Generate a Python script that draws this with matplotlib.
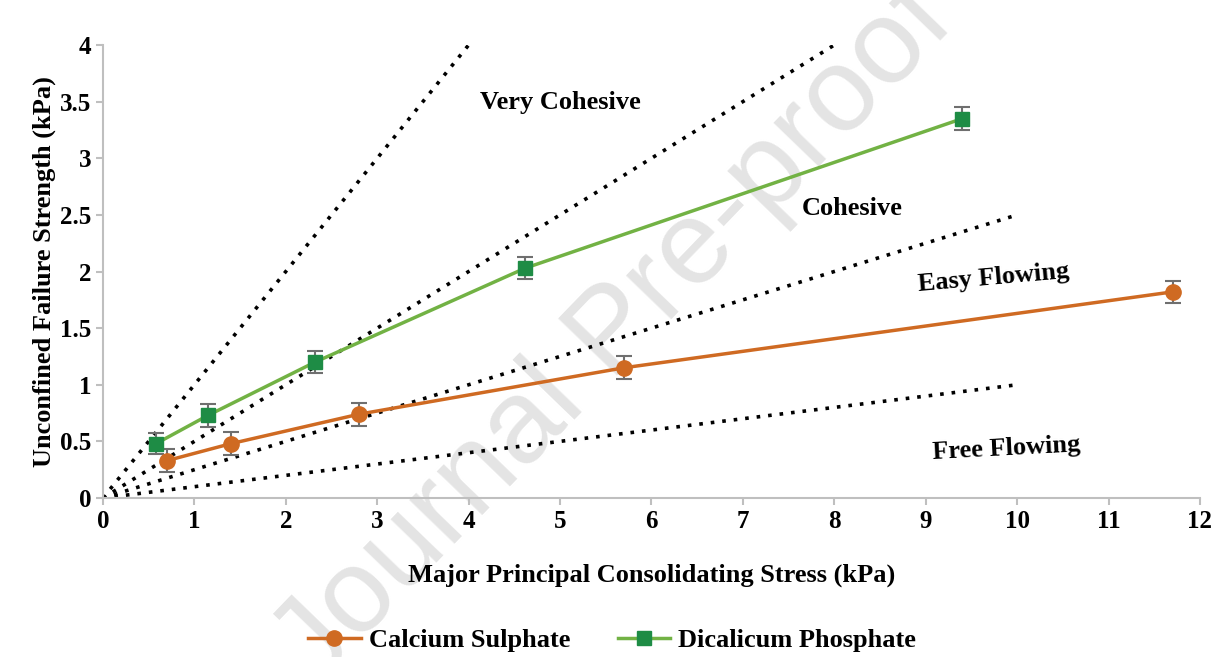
import matplotlib.pyplot as plt

# data
cs_x = [0.7, 1.4, 2.8, 5.7, 11.7]
cs_y = [0.33, 0.48, 0.74, 1.15, 1.82]
cs_err = [0.1, 0.1, 0.1, 0.1, 0.1]

dp_x = [0.58, 1.15, 2.32, 4.62, 9.4]
dp_y = [0.48, 0.73, 1.2, 2.03, 3.35]
dp_err = [0.09, 0.1, 0.1, 0.1, 0.1]

# flow function boundaries (ffc = 1, 2, 4, 10)
ff_slopes = [1.0, 0.5, 0.25, 0.1]
ff_xend = [4, 8, 10, 10]

regions = ["Very Cohesive", "Cohesive", "Easy Flowing", "Free Flowing"]
region_x = [5.0, 8.2, 9.74, 9.88]
region_y = [3.49, 2.56, 1.94, 0.44]
region_rot = [0, 0, 5, 3]

plt.rcParams['font.family'] = ['Liberation Serif', 'DejaVu Serif']
plt.rcParams['font.weight'] = 'bold'

fig = plt.figure(figsize=(12.17, 6.57), dpi=100)
ax = fig.add_axes([0.0846, 0.242, 0.9014, 0.6895])
ax.patch.set_visible(False)

for s, xe in zip(ff_slopes, ff_xend):
    ax.plot([0, xe], [0, s * xe], color='black', linestyle=(0, (1, 2.2)),
            linewidth=2.6, zorder=2)

ax.errorbar(cs_x, cs_y, yerr=cs_err, color='#CF6A22', marker='o', markersize=11,
            linewidth=2.5, ecolor='#6f6f6f', elinewidth=1.5, capsize=6,
            capthick=1.5, label='Calcium Sulphate', zorder=3)
ax.errorbar(dp_x, dp_y, yerr=dp_err, color='#72B244', marker='s', markersize=10,
            markerfacecolor='#1E8C45', markeredgecolor='#1E8C45',
            linewidth=2.5, ecolor='#6f6f6f', elinewidth=1.5, capsize=6,
            capthick=1.5, label='Dicalicum Phosphate', zorder=3)

for t, x, y, r in zip(regions, region_x, region_y, region_rot):
    ax.text(x, y, t, ha='center', va='center', rotation=r, fontsize=19,
            fontweight='bold', zorder=4)

ax.set_xlim(0, 12)
ax.set_ylim(0, 4)
ax.set_xticks(range(0, 13))
ax.set_yticks([0, 0.5, 1, 1.5, 2, 2.5, 3, 3.5, 4])
ax.set_yticklabels(['0', '0.5', '1', '1.5', '2', '2.5', '3', '3.5', '4'])
ax.tick_params(labelsize=18, color='#bfbfbf', length=5, width=1.5, direction='out')
for lab in ax.get_xticklabels() + ax.get_yticklabels():
    lab.set_fontweight('bold')
for side in ['top', 'right']:
    ax.spines[side].set_visible(False)
for side in ['left', 'bottom']:
    ax.spines[side].set_color('#bfbfbf')
    ax.spines[side].set_linewidth(1.5)

ax.set_xlabel('Major Principal Consolidating Stress (kPa)', fontsize=19,
              fontweight='bold', labelpad=22)
ax.set_ylabel('Unconfined Failure Strength (kPa)', fontsize=19,
              fontweight='bold', labelpad=3)

handles, labels = ax.get_legend_handles_labels()
handles = [h[0] for h in handles]
fig.legend(handles, labels, loc='center', bbox_to_anchor=(0.503, 0.025), ncol=2,
           frameon=False, handlelength=2.0, handletextpad=0.3, columnspacing=1.8,
           prop={'weight': 'bold', 'size': 19})

# watermark, behind the plot
fig.text(0.505, 0.49, 'Journal Pre-proof', fontsize=86, color='#e4e4e4',
         family='Liberation Sans', fontweight='normal', rotation=46,
         ha='center', va='center', zorder=-1)

fig.savefig('out.png', dpi=100)
